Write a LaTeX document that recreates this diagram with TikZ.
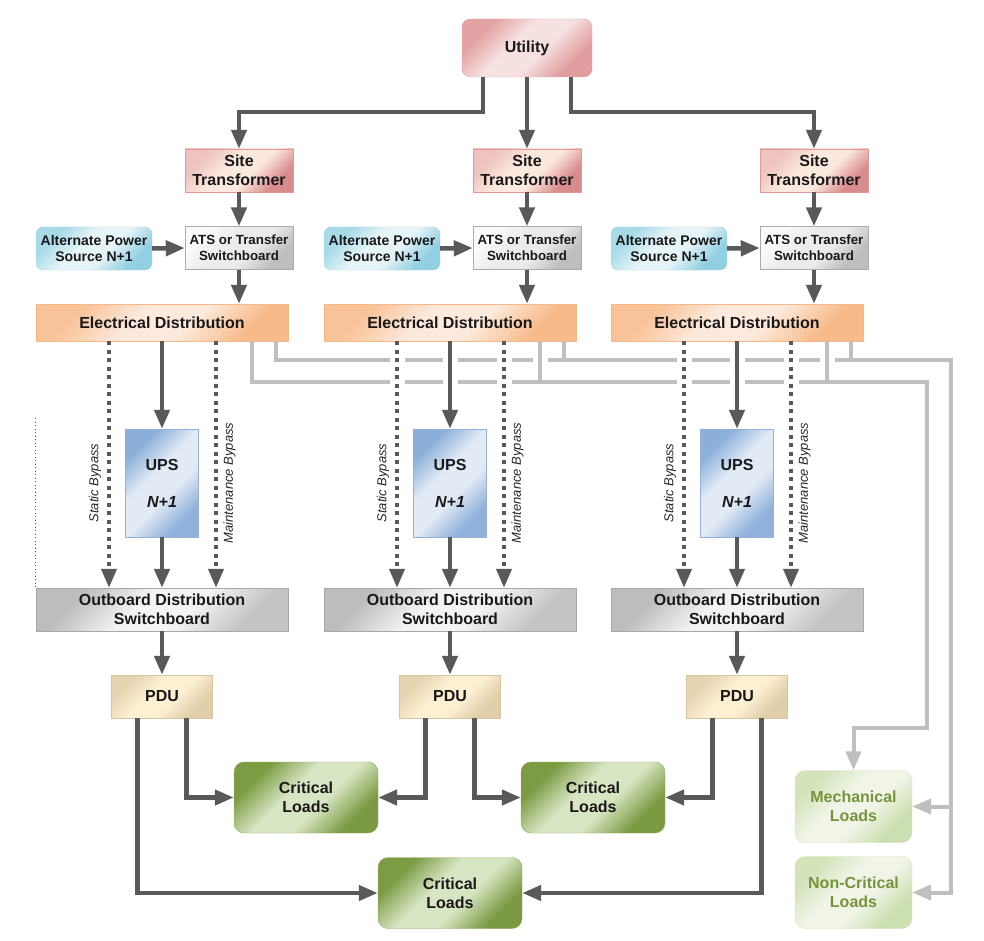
\documentclass[tikz,border=0pt]{standalone}
\usepackage{fontspec}
\setmainfont{Liberation Sans}
\usetikzlibrary{arrows.meta}
\definecolor{darr}{HTML}{595959}
\definecolor{garr}{HTML}{BFBFBF}
\definecolor{utA}{HTML}{E3A2A4}\definecolor{utB}{HTML}{F6E1E1}\definecolor{utC}{HTML}{E09C9E}\definecolor{utD}{HTML}{E2AAAA}
\definecolor{stA}{HTML}{EFC3C0}\definecolor{stB}{HTML}{FCE9DE}\definecolor{stC}{HTML}{D98C8E}\definecolor{stD}{HTML}{DE9A98}
\definecolor{atA}{HTML}{FAFAFA}\definecolor{atB}{HTML}{EBEBEB}\definecolor{atC}{HTML}{BEBEBE}\definecolor{atD}{HTML}{ABABAB}
\definecolor{alA}{HTML}{A9DAE8}\definecolor{alB}{HTML}{E6F4F8}\definecolor{alC}{HTML}{92D0E1}\definecolor{alD}{HTML}{A8D5E3}
\definecolor{edA}{HTML}{F9C39A}\definecolor{edB}{HTML}{FDEADC}\definecolor{edC}{HTML}{F7BB8B}\definecolor{edD}{HTML}{F6B887}
\definecolor{upA}{HTML}{8CAFDA}\definecolor{upB}{HTML}{E1EAF5}\definecolor{upC}{HTML}{90B1DA}\definecolor{upD}{HTML}{93B1D9}
\definecolor{obA}{HTML}{BDBDBD}\definecolor{obB}{HTML}{F3F3F3}\definecolor{obC}{HTML}{C4C4C4}\definecolor{obD}{HTML}{A8A8A8}
\definecolor{pdA}{HTML}{E6D5B3}\definecolor{pdB}{HTML}{FDEFD2}\definecolor{pdC}{HTML}{E0CEAA}\definecolor{pdD}{HTML}{D6C59E}
\definecolor{clA}{HTML}{7C9B43}\definecolor{clB}{HTML}{D8E5C3}\definecolor{clC}{HTML}{7A9940}\definecolor{clD}{HTML}{8FAD5E}
\definecolor{mcA}{HTML}{D3E4BB}\definecolor{mcB}{HTML}{F0F5E8}\definecolor{mcC}{HTML}{CCDFB1}\definecolor{mcD}{HTML}{D2E2BA}
\definecolor{mcT}{HTML}{77933C}
\colorlet{shA}{white}\colorlet{shB}{white}\colorlet{shC}{white}
\pgfdeclareverticalshading[shA,shB,shC]{diagband}{100bp}{color(0bp)=(shC); color(27bp)=(shC); color(43bp)=(shB); color(57bp)=(shB); color(73bp)=(shA); color(100bp)=(shA)}
\newcommand{\fbig}{\bfseries\fontsize{16}{19}\selectfont}
\newcommand{\fsmall}{\bfseries\fontsize{13.3}{16}\selectfont}
\newcommand{\falt}{\bfseries\fontsize{14}{16.5}\selectfont}
\newcommand{\flab}{\itshape\fontsize{13}{15}\selectfont}
\begin{document}
\begin{tikzpicture}[x=1pt,y=-1pt,
  >={Triangle[length=19pt,width=15pt]},
  every node/.style={inner sep=0pt, align=center, text=black!90},
  shd/.style n args={3}{/utils/exec={\colorlet{shA}{#1}\colorlet{shB}{#2}\colorlet{shC}{#3}}, shading=diagband, shading angle=45},
  stbox/.style={draw=stD, shd={stA}{stB}{stC}, minimum width=108pt, minimum height=43pt, font=\fbig},
  atsbox/.style={draw=atD, shd={atA}{atB}{atC}, minimum width=108pt, minimum height=43pt, font=\fsmall},
  altbox/.style={draw=alD, shd={alA}{alB}{alC}, rounded corners=7pt, minimum width=116pt, minimum height=43pt, font=\falt},
  edbox/.style={draw=edD, shd={edA}{edB}{edC}, minimum width=252pt, minimum height=37pt, font=\fbig},
  upsbox/.style={draw=upD, shd={upA}{upB}{upC}, minimum width=73pt, minimum height=108pt, font=\fbig},
  obbox/.style={draw=obD, shd={obA}{obB}{obC}, minimum width=252pt, minimum height=43pt, font=\fbig},
  pdubox/.style={draw=pdD, shd={pdA}{pdB}{pdC}, minimum width=101pt, minimum height=43pt, font=\fbig},
  clbox/.style={draw=clD, shd={clA}{clB}{clC}, rounded corners=10pt, minimum width=144pt, minimum height=71pt, font=\fbig},
  mechbox/.style={draw=mcD, shd={mcA}{mcB}{mcC}, rounded corners=10pt, minimum width=117pt, minimum height=72pt, font=\fbig, text=mcT},
  lab/.style={font=\flab, rotate=90, text=black!85},
  darrow/.style={draw=darr, line width=4.5pt, ->},
  dotarrow/.style={draw=darr, line width=4pt, dash pattern=on 4pt off 4.5pt, ->},
  garrow/.style={draw=garr, line width=4pt, ->},
  gline/.style={draw=garr, line width=4pt}
]
\useasboundingbox (0,0) rectangle (984,941);

% nodes
\node[draw=utD, shd={utA}{utB}{utC}, rounded corners=8pt, minimum width=130pt, minimum height=58pt, font=\fbig] (util) at (527,48) {Utility};
\foreach \i/\c in {1/162,2/450,3/737} {
  \pgfmathsetmacro{\s}{\c+77}
  \pgfmathsetmacro{\a}{\c-68}
  \pgfmathsetmacro{\ls}{\c-67}
  \pgfmathsetmacro{\lm}{\c+67.5}
  \node[stbox] (st\i) at (\s,170.5) {Site\\Transformer};
  \node[atsbox] (ats\i) at (\s,248) {ATS or Transfer\\Switchboard};
  \node[altbox] (alt\i) at (\a,248.5) {Alternate Power\\Source N+1};
  \node[edbox] (ed\i) at (\c,322.5) {Electrical Distribution};
  \node[upsbox] (ups\i) at (\c,483) {UPS\\[18pt]\textit{N+1}};
  \node[obbox] (ob\i) at (\c,609.5) {Outboard Distribution\\Switchboard};
  \node[pdubox] (pdu\i) at (\c,696.5) {PDU};
  \node[lab] (sb\i) at (\ls,483) {Static Bypass};
  \node[lab] (mb\i) at (\lm,483) {Maintenance Bypass};
}
\node[clbox] (cl1) at (306,797.5) {Critical\\Loads};
\node[clbox] (cl2) at (593,797.5) {Critical\\Loads};
\node[clbox] (cl3) at (450,893) {Critical\\Loads};
\node[mechbox] (mech) at (853.5,806.5) {Mechanical\\Loads};
\node[mechbox] (ncl) at (853.5,892.5) {Non-Critical\\Loads};

% utility feeds
\draw[darrow] ([xshift=-44pt]util.south) -- ++(0,35) -| (st1.north);
\draw[darrow] (util.south) -- (st2.north);
\draw[darrow] ([xshift=44pt]util.south) -- ++(0,35) -| (st3.north);

\foreach \i in {1,2,3} {
  \draw[darrow] (st\i.south) -- (ats\i.north);
  \draw[darrow] (alt\i.east) -- (ats\i.west);
  \draw[darrow] (ats\i.south) -- (ats\i.south |- ed\i.north);
}

% grey mechanical / non-critical buses
\coordinate (bus1) at (927,382);
\coordinate (bus2) at (951,360);
\draw[garrow] ([xshift=-36pt]ed1.south east) |- (bus1) |- ([yshift=42pt]mech.north) -- (mech.north);
\draw[garrow] ([xshift=-12pt]ed1.south east) |- (bus2) |- (ncl.east);
\draw[garrow] (bus2 |- mech.east) -- (mech.east);
\foreach \i in {2,3} {
  \draw[gline] ([xshift=-36pt]ed\i.south east) -- ++(0,41);
  \draw[gline] ([xshift=-12pt]ed\i.south east) -- ++(0,19);
}
% gaps at crossings
\foreach \x in {397,450,504,684,737,791} {
  \fill[white] (\x-7.5,351) rectangle (\x+7.5,391);
}
\foreach \x in {540,827} {
  \fill[white] (\x-7.5,351) rectangle (\x+7.5,369);
}
\foreach \i in {2,3} {
  \draw[gline] ([xshift=-36pt]ed\i.south east) -- ++(0,41);
}

% UPS paths
\foreach \i in {1,2,3} {
  \draw[darrow] (ed\i.south) -- (ups\i.north);
  \draw[darrow] (ups\i.south) -- (ob\i.north);
  \draw[dotarrow] ([xshift=-53pt]ed\i.south) -- ([xshift=-53pt]ob\i.north);
  \draw[dotarrow] ([xshift=54pt]ed\i.south) -- ([xshift=54pt]ob\i.north);
  \draw[darrow] (ob\i.south) -- (pdu\i.north);
}

% PDU to loads
\draw[darrow] ([xshift=-24.5pt]pdu1.south) |- (cl3.west);
\draw[darrow] ([xshift=24.5pt]pdu1.south) |- (cl1.west);
\draw[darrow] ([xshift=-24.5pt]pdu2.south) |- (cl1.east);
\draw[darrow] ([xshift=24.5pt]pdu2.south) |- (cl2.west);
\draw[darrow] ([xshift=-24.5pt]pdu3.south) |- (cl2.east);
\draw[darrow] ([xshift=24.5pt]pdu3.south) |- (cl3.east);

% faint dotted mark at left
\draw[black!70, line width=0.6pt, dash pattern=on 1pt off 2.5pt] (35,418) -- (35,587);
\end{tikzpicture}
\end{document}
